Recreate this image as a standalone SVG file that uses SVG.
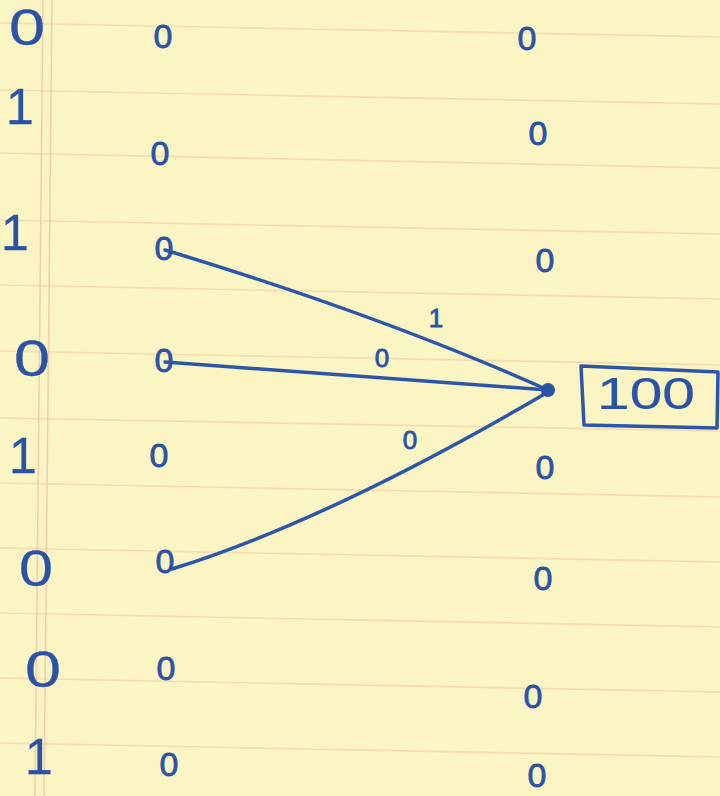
<svg xmlns="http://www.w3.org/2000/svg" width="720" height="796" viewBox="0 0 720 796">
<style>
.rule{stroke:#efcfa6;stroke-width:1.6;fill:none;opacity:0.65}
.margin{stroke:#f0b9a0;stroke-width:1.5;fill:none;opacity:0.65}
.ink{fill:#2a52a6;stroke:#2a52a6;font-family:"Liberation Sans","DejaVu Sans",sans-serif;text-anchor:middle;dominant-baseline:central}
.big{font-size:50px;stroke-width:0.3}
.small{font-size:34px;stroke-width:0.8}
.lbl{font-size:26px;stroke-width:0.8}
.wire{stroke:#2d56aa;stroke-width:3.5;fill:none;stroke-linecap:round}
</style>
<rect width="720" height="796" fill="#fbf4c3"/>
<g id="paper">
<path class="rule" d="M0 23 L720 37"/>
<path class="rule" d="M0 90 L720 104"/>
<path class="rule" d="M0 153 L720 168"/>
<path class="rule" d="M0 220 L720 234"/>
<path class="rule" d="M0 285 L720 299"/>
<path class="rule" d="M0 351 L720 365"/>
<path class="rule" d="M0 418 L720 431"/>
<path class="rule" d="M0 483 L720 497"/>
<path class="rule" d="M0 548 L720 562"/>
<path class="rule" d="M0 613 L720 627"/>
<path class="rule" d="M0 678 L720 692"/>
<path class="rule" d="M0 743 L720 757"/>
<path class="margin" d="M43 0 L35 796"/>
<path class="margin" d="M52 0 L44 796"/>
</g>
<g id="connectors">
<path class="wire" d="M165 250 Q380 315 548 390"/>
<path class="wire" d="M165 362 L548 390"/>
<path class="wire" d="M172 569 Q330 520 548 392"/>
<circle cx="548" cy="390" r="7" fill="#2a52a6"/>
</g>
<g id="col-left">
<text class="ink big" x="27" y="28" textLength="36" lengthAdjust="spacingAndGlyphs">0</text>
<text class="ink big" x="20" y="107">1</text>
<text class="ink big" x="15" y="233">1</text>
<text class="ink big" x="32" y="359" textLength="36" lengthAdjust="spacingAndGlyphs">0</text>
<text class="ink big" x="23" y="456">1</text>
<text class="ink big" x="36" y="569" textLength="34" lengthAdjust="spacingAndGlyphs">0</text>
<text class="ink big" x="43" y="670" textLength="36" lengthAdjust="spacingAndGlyphs">0</text>
<text class="ink big" x="39" y="757">1</text>
</g>
<g id="col-mid">
<text class="ink small" x="163" y="36">0</text>
<text class="ink small" x="160" y="153">0</text>
<text class="ink small" x="164" y="248">0</text>
<text class="ink small" x="164" y="360">0</text>
<text class="ink small" x="159" y="455">0</text>
<text class="ink small" x="165" y="561">0</text>
<text class="ink small" x="166" y="668">0</text>
<text class="ink small" x="169" y="764">0</text>
</g>
<g id="col-right">
<text class="ink small" x="527" y="38">0</text>
<text class="ink small" x="538" y="133">0</text>
<text class="ink small" x="545" y="260">0</text>
<text class="ink small" x="545" y="467">0</text>
<text class="ink small" x="543" y="578">0</text>
<text class="ink small" x="533" y="696">0</text>
<text class="ink small" x="537" y="775">0</text>
</g>
<g id="labels">
<text class="ink lbl" x="436" y="318">1</text>
<text class="ink lbl" x="382" y="358">0</text>
<text class="ink lbl" x="410" y="440">0</text>
</g>
<g id="output">
<path d="M581 366 L718 372 L717 428 L584 425 Z" fill="none" stroke="#2d56aa" stroke-width="3.5" stroke-linejoin="round"/>
<text class="ink" x="646" y="393" style="font-size:44px;stroke-width:0.2" textLength="98" lengthAdjust="spacingAndGlyphs">100</text>
</g>
</svg>
